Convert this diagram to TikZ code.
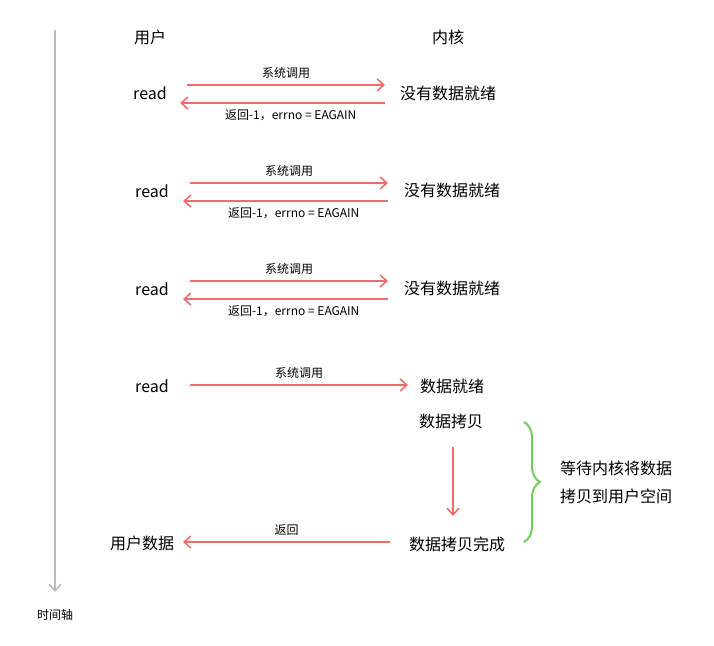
\documentclass[tikz,border=0pt]{standalone}
\usepackage{fontspec}
\setmainfont{Noto Sans CJK SC}
\usetikzlibrary{arrows.meta,decorations.pathreplacing}
\definecolor{redarr}{HTML}{F26B6B}
\definecolor{greenb}{HTML}{6DCF5A}
\definecolor{axisc}{HTML}{BBBBBB}
\begin{document}
\begin{tikzpicture}[x=0.75pt,y=-0.75pt,
  txt/.style={font=\fontsize{12}{14}\selectfont,inner sep=0pt},
  lbl/.style={font=\fontsize{9}{11}\selectfont,inner sep=0pt},
  arr/.style={draw=redarr,line width=1.2pt,-{Straight Barb[length=5pt,width=9pt]}}]
\useasboundingbox (0,0) rectangle (714,646);
\coordinate (ax1) at (55,30); \coordinate (ax2) at (55,592);
\draw[axisc,line width=1.2pt,-{Straight Barb[length=5pt,width=9pt]}] (ax1) -- (ax2);
\node[lbl] (axl) at (55,615) {时间轴};
\node[txt] (u) at (150,37) {用户};
\node[txt] (k) at (448,37) {内核};
% row 1
\node[txt] (r1) at (150,93) {read};
\node[txt] (k1) at (448,93) {没有数据就绪};
\coordinate (a1s) at (187,85); \coordinate (a1e) at (385,85);
\coordinate (b1s) at (385,103); \coordinate (b1e) at (180,103);
\draw[arr] (a1s) -- (a1e) node[lbl,midway,above=4pt] (l1) {系统调用};
\draw[arr] (b1s) -- (b1e) node[lbl,pos=0.46,below=4pt] (m1) {返回-1，errno = EAGAIN};
% row 2
\node[txt] (r2) at (152,191) {read};
\node[txt] (k2) at (452,190) {没有数据就绪};
\coordinate (a2s) at (190,183); \coordinate (a2e) at (388,183);
\coordinate (b2s) at (388,201); \coordinate (b2e) at (183,201);
\draw[arr] (a2s) -- (a2e) node[lbl,midway,above=4pt] (l2) {系统调用};
\draw[arr] (b2s) -- (b2e) node[lbl,pos=0.46,below=4pt] (m2) {返回-1，errno = EAGAIN};
% row 3
\node[txt] (r3) at (152,289) {read};
\node[txt] (k3) at (452,288) {没有数据就绪};
\coordinate (a3s) at (190,281); \coordinate (a3e) at (388,281);
\coordinate (b3s) at (388,299); \coordinate (b3e) at (183,299);
\draw[arr] (a3s) -- (a3e) node[lbl,midway,above=4pt] (l3) {系统调用};
\draw[arr] (b3s) -- (b3e) node[lbl,pos=0.46,below=4pt] (m3) {返回-1，errno = EAGAIN};
% row 4
\node[txt] (r4) at (152,386) {read};
\node[txt] (k4) at (452,386) {数据就绪};
\coordinate (a4s) at (190,385); \coordinate (a4e) at (408,385);
\draw[arr] (a4s) -- (a4e) node[lbl,pos=0.5,above=4pt] (l4) {系统调用};
\node[txt] (c1) at (451,421) {数据拷贝};
\coordinate (vs) at (453,447); \coordinate (ve) at (453,516);
\draw[arr] (vs) -- (ve);
\node[txt] (c2) at (457,544) {数据拷贝完成};
\node[txt] (ud) at (142,543) {用户数据};
\coordinate (rs) at (390,542); \coordinate (re) at (183,542);
\draw[arr] (rs) -- (re) node[lbl,midway,above=4pt] (l5) {返回};
% brace
\coordinate (bt) at (524,422); \coordinate (bb) at (524,542);
\draw[greenb,line width=1.5pt,decorate,decoration={brace,amplitude=12pt}] (bt) -- (bb);
\node[txt] (w1) at (616,468) {等待内核将数据};
\node[txt] (w2) at (616,496) {拷贝到用户空间};
\end{tikzpicture}
\end{document}
